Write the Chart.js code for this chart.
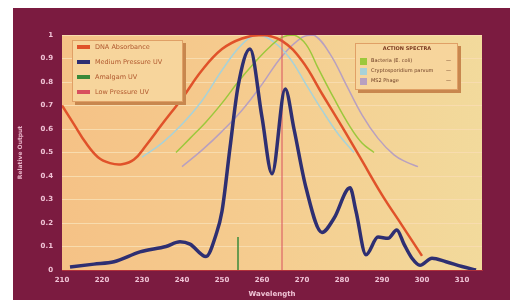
<!DOCTYPE html>
<html>
<head>
<meta charset="utf-8">
<script src="https://cdn.jsdelivr.net/npm/chart.js@4.4.1/dist/chart.umd.min.js"></script>
<style>
  html, body { margin: 0; padding: 0; background: #fff; }
  #frame { position: absolute; left: 13px; top: 8px; width: 497px; height: 292px; background: #7b1b40; }
</style>
</head>
<body>
<div id="frame"><canvas id="uv-chart" width="497" height="292"></canvas></div>
<script>
// wavelengths (nm) and relative output for each series
const dnaWave = [210, 213, 216, 219, 222, 225, 228, 231, 235, 240, 245, 250, 255, 260, 265, 270, 275, 280, 285, 290, 295, 300];
const dnaValue = [0.70, 0.62, 0.54, 0.48, 0.455, 0.45, 0.47, 0.53, 0.62, 0.73, 0.85, 0.94, 0.985, 1.0, 0.975, 0.89, 0.75, 0.61, 0.465, 0.32, 0.19, 0.06];

const mpWave = [212, 218, 223, 229.5, 236, 239.5, 242, 246, 248.5, 250, 252, 254, 257, 260, 262.5, 265.8, 268, 271, 275, 278, 282, 283.5, 286, 289, 291.5, 293.7, 295.5, 297.5, 299.5, 302.5, 306, 310, 313.5];
const mpValue = [0.013, 0.025, 0.035, 0.077, 0.10, 0.12, 0.11, 0.057, 0.15, 0.25, 0.52, 0.78, 0.94, 0.65, 0.41, 0.77, 0.60, 0.35, 0.16, 0.22, 0.35, 0.25, 0.065, 0.14, 0.135, 0.17, 0.11, 0.05, 0.02, 0.05, 0.035, 0.015, 0.0];

const amalgamWave = [254, 254];
const amalgamValue = [0, 0.14];

const lowWave = [265, 265];
const lowValue = [0, 1];

const bactWave = [238.5, 242, 246, 250, 254, 258, 262, 265, 268, 271, 274, 278, 282, 285, 288];
const bactValue = [0.50, 0.56, 0.63, 0.71, 0.80, 0.88, 0.95, 0.99, 1.0, 0.96, 0.86, 0.73, 0.61, 0.54, 0.50];

const cryptoWave = [230, 235, 240, 245, 250, 255, 259, 263, 267, 271, 275, 279, 283];
const cryptoValue = [0.48, 0.54, 0.62, 0.72, 0.85, 0.96, 1.0, 0.97, 0.90, 0.79, 0.68, 0.58, 0.50];

const ms2Wave = [240, 245, 250, 255, 260, 265, 270, 273, 277, 281, 285, 289, 293, 296, 299];
const ms2Value = [0.44, 0.51, 0.59, 0.68, 0.79, 0.91, 0.99, 1.0, 0.92, 0.79, 0.66, 0.56, 0.49, 0.46, 0.44];

const xTicks = [210, 220, 230, 240, 250, 260, 270, 280, 290, 300, 310];

const lampLabels = ['DNA Absorbance', 'Medium Pressure UV', 'Amalgam UV', 'Low Pressure UV'];
const spectraTitle = 'ACTION SPECTRA';
const spectraLabels = ['Bacteria (E. coli)', 'Cryptosporidium parvum', 'MS2 Phage'];

function pts(xs, ys) {
  return xs.map((x, i) => ({ x: x, y: ys[i] }));
}

const plotBackground = {
  id: 'plotBackground',
  beforeDraw(chart) {
    const { ctx, chartArea: a } = chart;
    const g = ctx.createLinearGradient(a.left, 0, a.right, 0);
    g.addColorStop(0, '#f5c286');
    g.addColorStop(0.5, '#f5cd90');
    g.addColorStop(1, '#f2da9c');
    ctx.save();
    ctx.fillStyle = g;
    ctx.fillRect(a.left, a.top, a.right - a.left, a.bottom - a.top);
    ctx.restore();
  }
};

function drawBox(ctx, x, y, w, h) {
  ctx.fillStyle = '#c8874e';
  ctx.fillRect(x + 3, y + 3, w, h);
  ctx.fillStyle = '#f7d59c';
  ctx.fillRect(x, y, w, h);
  ctx.strokeStyle = '#e0a066';
  ctx.lineWidth = 1;
  ctx.strokeRect(x + 0.5, y + 0.5, w - 1, h - 1);
}

const insideLegends = {
  id: 'insideLegends',
  afterDraw(chart) {
    const { ctx, chartArea: a } = chart;
    const ds = chart.data.datasets;
    ctx.save();
    // lamp legend
    let bx = a.left + 10, by = a.top + 5;
    drawBox(ctx, bx, by, 111, 62);
    ctx.font = '6.5px "DejaVu Sans"';
    ctx.textBaseline = 'middle';
    lampLabels.forEach((label, i) => {
      const yy = by + 7 + i * 15;
      ctx.fillStyle = ds[i].borderColor;
      ctx.fillRect(bx + 5, yy - 2, 13, 4);
      ctx.fillStyle = '#b0582e';
      ctx.fillText(label, bx + 23, yy);
    });
    // action spectra legend
    bx = a.left + 293; by = a.top + 8;
    drawBox(ctx, bx, by, 103, 47);
    ctx.fillStyle = '#7a3a20';
    ctx.font = 'bold 5px "DejaVu Sans"';
    ctx.textAlign = 'center';
    ctx.fillText(spectraTitle, bx + 52, by + 6);
    ctx.textAlign = 'left';
    ctx.font = '5px "DejaVu Sans"';
    spectraLabels.forEach((label, i) => {
      const yy = by + 18 + i * 10;
      ctx.fillStyle = ds[4 + i].borderColor;
      ctx.fillRect(bx + 5, yy - 3, 7, 7);
      ctx.fillStyle = '#6a3a22';
      ctx.fillText(label, bx + 16, yy);
      ctx.fillText('\u2014', bx + 91, yy);
    });
    ctx.restore();
  }
};

new Chart(document.getElementById('uv-chart'), {
  type: 'line',
  data: {
    datasets: [{
      label: lampLabels[0],
      data: pts(dnaWave, dnaValue),
      borderColor: '#e0522a',
      borderWidth: 2.5,
      tension: 0.4,
      order: 2
    }, {
      label: lampLabels[1],
      data: pts(mpWave, mpValue),
      borderColor: '#2e2f72',
      borderWidth: 3.5,
      cubicInterpolationMode: 'monotone',
      order: 0
    }, {
      label: lampLabels[2],
      data: pts(amalgamWave, amalgamValue),
      borderColor: '#3a8a3a',
      borderWidth: 1.5,
      order: 1
    }, {
      label: lampLabels[3],
      data: pts(lowWave, lowValue),
      borderColor: '#d8505e',
      borderWidth: 1,
      order: 1
    }, {
      label: spectraLabels[0],
      data: pts(bactWave, bactValue),
      borderColor: '#9cc83c',
      borderWidth: 1.5,
      tension: 0.4,
      order: 3
    }, {
      label: spectraLabels[1],
      data: pts(cryptoWave, cryptoValue),
      borderColor: '#a8d2d8',
      borderWidth: 1.5,
      tension: 0.4,
      order: 3
    }, {
      label: spectraLabels[2],
      data: pts(ms2Wave, ms2Value),
      borderColor: '#b8a0c0',
      borderWidth: 1.5,
      tension: 0.4,
      order: 3
    }]
  },
  options: {
    responsive: false,
    animation: false,
    devicePixelRatio: 1,
    elements: { point: { radius: 0 } },
    layout: { padding: { top: 27, right: 28, left: 0, bottom: 0 } },
    plugins: {
      legend: { display: false },
      tooltip: { enabled: false }
    },
    scales: {
      x: {
        type: 'linear',
        min: 210,
        max: 315,
        afterFit(scale) { scale.height = 30; },
        afterBuildTicks(scale) { scale.ticks = xTicks.map(v => ({ value: v })); },
        grid: { display: false, drawTicks: false },
        border: { color: '#b0303a', width: 1 },
        ticks: {
          color: '#f0c4d6',
          font: { size: 7, weight: 'bold', family: 'DejaVu Sans' },
          padding: 6,
          maxRotation: 0
        },
        title: {
          display: true,
          text: 'Wavelength',
          color: '#f0c4d6',
          font: { size: 7, weight: 'bold', family: 'DejaVu Sans' },
          padding: { top: 0, bottom: 2 }
        }
      },
      y: {
        min: 0,
        max: 1,
        afterFit(scale) { scale.width = 49; },
        grid: { color: '#f8dcae', lineWidth: 1, drawTicks: false },
        border: { display: false },
        ticks: {
          stepSize: 0.1,
          color: '#f0c4d6',
          font: { size: 7, weight: 'bold', family: 'DejaVu Sans' },
          padding: 9,
          callback: v => (v === 0 || v === 1) ? String(v) : v.toFixed(1)
        },
        title: {
          display: true,
          text: 'Relative Output',
          color: '#e8b4c8',
          font: { size: 6, weight: 'bold', family: 'DejaVu Sans' },
          padding: { top: 4, bottom: 4 }
        }
      }
    }
  },
  plugins: [plotBackground, insideLegends]
});
</script>
</body>
</html>
